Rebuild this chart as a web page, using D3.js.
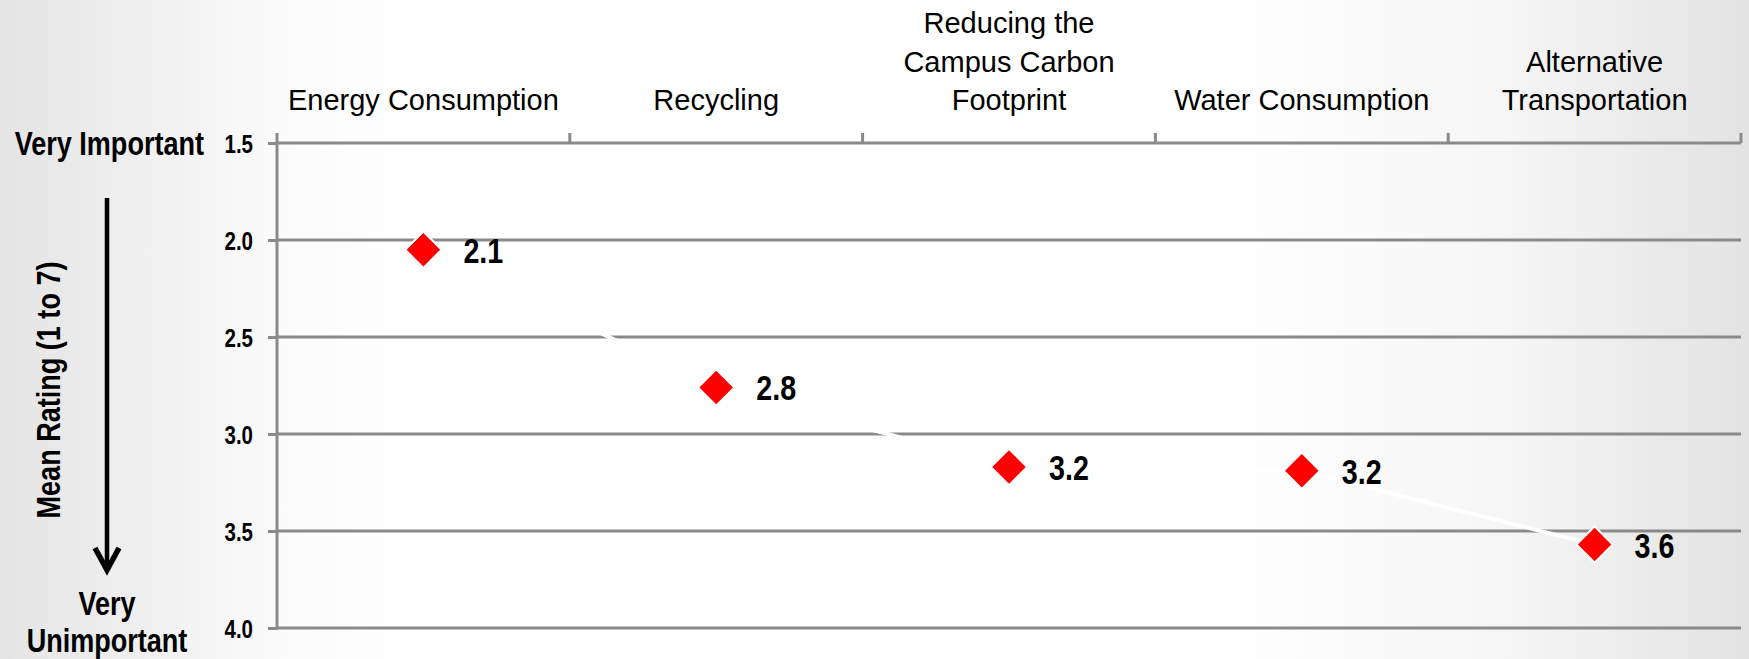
<!DOCTYPE html>
<html>
<head>
<meta charset="utf-8">
<script src="https://cdn.jsdelivr.net/npm/d3@7"></script>
<style>
  html, body { margin: 0; padding: 0; background: #fff; }
  svg { display: block; }
  .cat { font-family: "Liberation Sans", Arial, sans-serif; font-size: 29px; fill: #000; }
  .bold { font-family: "Liberation Sans", Arial, sans-serif; font-weight: bold; fill: #000; }
</style>
</head>
<body>
<svg id="chart" width="1749" height="659"></svg>
<script>
// ---- data ----
const categories = [
  "Energy Consumption",
  "Recycling",
  "Reducing the Campus Carbon Footprint",
  "Water Consumption",
  "Alternative Transportation"
];
const categoryLines = [
  ["Energy Consumption"],
  ["Recycling"],
  ["Reducing the", "Campus Carbon", "Footprint"],
  ["Water Consumption"],
  ["Alternative", "Transportation"]
];
const meanRatings = [2.05, 2.76, 3.17, 3.19, 3.57];
const ratingLabels = ["2.1", "2.8", "3.2", "3.2", "3.6"];
const yTicks = [1.5, 2.0, 2.5, 3.0, 3.5, 4.0];
const yDomain = [1.5, 4.0];
const topLabel = "Very Important";
const bottomLabel = ["Very", "Unimportant"];
const yTitle = "Mean Rating (1 to 7)";

// ---- layout ----
const W = 1749, H = 659;
const NARROW = 0.82;
const svg = d3.select("#chart");

// background gradient
const defs = svg.append("defs");
const grad = defs.append("linearGradient").attr("id", "bg").attr("x1", "0").attr("x2", "1").attr("y1", "0").attr("y2", "0");
[[0, "#e4e4e4"], [0.16, "#fbfbfb"], [0.24, "#ffffff"], [0.7, "#ffffff"], [0.86, "#f6f6f6"], [1, "#e3e3e3"]]
  .forEach(([o, c]) => grad.append("stop").attr("offset", o).attr("stop-color", c));
svg.append("rect").attr("width", W).attr("height", H).attr("fill", "url(#bg)");

const x = d3.scaleBand().domain(categories).range([277, 1741]).paddingInner(0).paddingOuter(0);
const y = d3.scaleLinear().domain(yDomain).range([143, 628]);

const gridColor = "#8a8a8a";

// narrow bold text helper
function narrowText(parent, tx, ty, str, size, anchor, rot) {
  return parent.append("text")
    .attr("class", "bold")
    .style("font-size", size + "px")
    .attr("text-anchor", anchor || "start")
    .attr("transform", `translate(${tx},${ty})${rot ? ` rotate(${rot})` : ""} scale(${NARROW},1)`)
    .text(str);
}

// horizontal gridlines
svg.append("g").selectAll("line").data(yTicks).join("line")
  .attr("x1", x.range()[0]).attr("x2", x.range()[1])
  .attr("y1", d => y(d)).attr("y2", d => y(d))
  .attr("stroke", gridColor).attr("stroke-width", 3);

// y axis (left) with ticks
const yAxis = d3.axisLeft(y).tickValues(yTicks).tickSize(9).tickPadding(24).tickFormat(d3.format(".1f"));
const gy = svg.append("g").attr("transform", `translate(${x.range()[0]},0)`).call(yAxis);
gy.select(".domain").remove();
gy.selectAll(".tick line").attr("stroke", gridColor).attr("stroke-width", 3);
gy.selectAll(".tick text")
  .attr("class", "bold")
  .attr("x", null).attr("dy", null)
  .style("font-size", "25px")
  .attr("transform", `translate(-24,9) scale(${NARROW},1)`);
gy.attr("font-family", null).attr("font-size", null);

// vertical axis line
svg.append("line")
  .attr("x1", x.range()[0]).attr("x2", x.range()[0])
  .attr("y1", y(yDomain[0]) - 10).attr("y2", y(yDomain[1]) + 1.5)
  .attr("stroke", gridColor).attr("stroke-width", 3);

// top category boundary ticks
const boundaries = categories.map(c => x(c)).slice(1).concat([x.range()[1]]);
svg.append("g").selectAll("line").data(boundaries).join("line")
  .attr("x1", d => d).attr("x2", d => d)
  .attr("y1", y(yDomain[0]) - 10).attr("y2", y(yDomain[0]))
  .attr("stroke", gridColor).attr("stroke-width", 3);

// category labels (bottom-aligned)
const lineH = 38.5;
const catBase = 110;
const gc = svg.append("g");
categories.forEach((c, i) => {
  const lines = categoryLines[i];
  const t = gc.append("text").attr("class", "cat").attr("text-anchor", "middle");
  lines.forEach((ln, j) => {
    t.append("tspan")
      .attr("x", x(c) + x.bandwidth() / 2)
      .attr("y", catBase - (lines.length - 1 - j) * lineH)
      .text(ln);
  });
});

// connecting white line
const pts = categories.map((c, i) => [x(c) + x.bandwidth() / 2, y(meanRatings[i])]);
svg.append("path")
  .attr("d", d3.line()(pts))
  .attr("fill", "none").attr("stroke", "#ffffff").attr("stroke-width", 4);

// diamond markers
const diamond = d3.symbol().type(d3.symbolSquare).size(660);
svg.append("g").selectAll("path").data(pts).join("path")
  .attr("d", diamond)
  .attr("transform", d => `translate(${d[0]},${d[1]}) rotate(45)`)
  .attr("fill", "#ff0000").attr("stroke", "#ffffff").attr("stroke-width", 2);

// value labels
const gv = svg.append("g");
pts.forEach((p, i) => narrowText(gv, p[0] + 40, p[1] + 13, ratingLabels[i], 35, "start"));

// left annotations
narrowText(svg, 204, 155, topLabel, 33, "end");
bottomLabel.forEach((s, i) => narrowText(svg, 107, 615 + i * 37, s, 33, "middle"));
narrowText(svg, 60, 390, yTitle, 33, "middle", -90);

// arrow
svg.append("line").attr("x1", 107).attr("x2", 107).attr("y1", 198).attr("y2", 566)
  .attr("stroke", "#000").attr("stroke-width", 4.5);
svg.append("path").attr("d", "M95,548 L107,570 L119,548")
  .attr("fill", "none").attr("stroke", "#000").attr("stroke-width", 5.5)
  .attr("stroke-linejoin", "miter").attr("stroke-linecap", "butt");
</script>
</body>
</html>
